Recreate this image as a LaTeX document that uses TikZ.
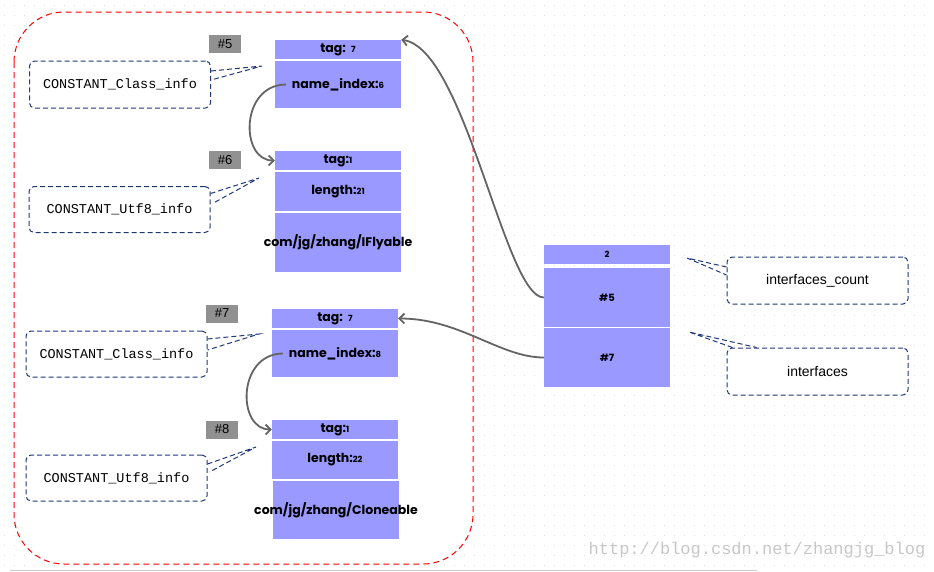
\documentclass[tikz,border=0pt]{standalone}
\usepackage{fontspec}
\usetikzlibrary{calc,arrows.meta}
\newfontfamily\cellfont{Poppins}
\newfontfamily\codefont{Liberation Mono}
\newfontfamily\labelfont{Liberation Sans}
\definecolor{cellblue}{RGB}{153,153,255}
\definecolor{tailblue}{RGB}{31,56,120}
\definecolor{idxgray}{RGB}{145,145,145}
\definecolor{linkgray}{RGB}{100,100,100}
\definecolor{dotgray}{RGB}{222,222,222}
\newcommand{\dig}[1]{{\fontsize{8.5}{9}\selectfont #1}}

\begin{document}
\begin{tikzpicture}[x=1pt,y=-1pt,
  cell/.style={fill=cellblue, minimum width=126pt, inner sep=0pt, font=\cellfont\bfseries\fontsize{12.5}{14}\selectfont},
  idx/.style={fill=idxgray, minimum width=32pt, minimum height=18pt, inner sep=0pt, font=\labelfont\fontsize{13}{15}\selectfont},
  info/.style={draw=tailblue, line width=1pt, dash pattern=on 5pt off 3pt, rounded corners=5pt, fill=white, minimum width=181pt, minimum height=47pt, inner sep=0pt, font=\codefont\fontsize{13.5}{15}\selectfont},
  tail/.style={draw=tailblue, dash pattern=on 5pt off 3pt, line width=1pt},
  link/.style={draw=linkgray, line width=1.8pt, -{Straight Barb[length=5pt,width=10pt]}}]
\useasboundingbox (0,0) rectangle (934,571);

% dotted background
\foreach \y in {5,15,...,565}
  \draw[dotgray, line width=1pt, dash pattern=on 1pt off 9pt] (4,\y) -- (934,\y);
\draw[red, line width=1pt, dash pattern=on 6pt off 4pt, fill=white, rounded corners=50pt] (14,12) rectangle (473,564);
\draw[black!20] (10,570) -- (757,570);
\node[text=black!22, font=\codefont\fontsize{17}{19}\selectfont] (mark) at (757,550) {http://blog.csdn.net/zhangjg\_blog};

% #5 CONSTANT_Class_info
\node[cell, minimum height=19pt] (tagA) at (338,49.5) {tag:\ \ \dig{7}};
\node[cell, minimum height=47pt] (nameA) at (338,84.5) {name\_index:\dig{6}};
\node[idx] (idxA) at (225,44) {\#5};
\node[info] (clsA) at (120,84.5) {CONSTANT\_Class\_info};

% #6 CONSTANT_Utf8_info
\node[cell, minimum height=19pt] (tagB) at (338,160.5) {tag:\dig{1}};
\node[cell, minimum height=39pt] (lenB) at (338,191.5) {length:\dig{21}};
\node[cell, minimum height=59pt] (strB) at (338,242.5) {\makebox[0pt]{com/jg/zhang/IFlyable}};
\node[idx] (idxB) at (225,160) {\#6};
\node[info, minimum height=46pt] (utfB) at (119.5,209.5) {CONSTANT\_Utf8\_info};

% #7 CONSTANT_Class_info
\node[cell, minimum height=19pt] (tagC) at (335,318.5) {tag:\ \ \dig{7}};
\node[cell, minimum height=47pt] (nameC) at (335,353.5) {name\_index:\dig{8}};
\node[idx] (idxC) at (222,313.5) {\#7};
\node[info, minimum height=46pt] (clsC) at (116.5,354) {CONSTANT\_Class\_info};

% #8 CONSTANT_Utf8_info
\node[cell, minimum height=19pt] (tagD) at (335,429.5) {tag:\dig{1}};
\node[cell, minimum height=38pt] (lenD) at (335,460) {length:\dig{22}};
\node[cell, minimum height=58pt] (strD) at (336,510) {\makebox[0pt]{com/jg/zhang/Cloneable}};
\node[idx] (idxD) at (222,429.5) {\#8};
\node[info, minimum height=46pt] (utfD) at (116.5,478) {CONSTANT\_Utf8\_info};

% interfaces
\node[cell, minimum height=19pt] (cnt) at (607,254.5) {\dig{2}};
\node[cell, minimum height=59pt] (ifA) at (607,297.5) {\fontsize{10}{12}\selectfont\#5};
\node[cell, minimum height=59pt] (ifB) at (607,357.5) {\fontsize{10}{12}\selectfont\#7};
\node[info, font=\labelfont\fontsize{14}{16}\selectfont] (cntBox) at (817.5,280.5) {interfaces\_count};
\node[info, font=\labelfont\fontsize{14}{16}\selectfont] (ifsBox) at (817.5,371.5) {interfaces};

% callout tails
\coordinate (tipA) at (262,66);
\coordinate (tipB) at (259,178);
\coordinate (tipC) at (259,334);
\coordinate (tipD) at (256,447);
\coordinate (tipE) at (687,258);
\coordinate (tipF) at (689,332);
\draw[tail] ($(clsA.east)+(0,-13.5)$) -- (tipA) -- ($(clsA.east)+(0,-4.5)$);
\draw[tail] ($(utfB.east)+(0,-16)$) -- (tipB) -- ($(utfB.east)+(2,-6)$);
\draw[tail] ($(clsC.east)+(0,-15)$) -- (tipC) -- ($(clsC.east)+(0,-4)$);
\draw[tail] ($(utfD.east)+(0,-14)$) -- (tipD) -- ($(utfD.east)+(2,-6)$);
\draw[tail] ($(cntBox.west)+(0,-13.5)$) -- (tipE) -- ($(cntBox.west)+(0,-5.5)$);
\draw[tail] ($(ifsBox.north west)+(6,0)$) -- (tipF) -- ($(ifsBox.north west)+(30,0)$);

% references
\draw[link] ($(nameA.west)+(11,0)$) .. controls (240,85) and (240,160.5) .. (tagB.west);
\draw[link] ($(nameC.west)+(11,0)$) .. controls (237,354) and (237,429.5) .. (tagD.west);
\draw[link] (ifA.west) .. controls (505,297.5) and (465,48) .. (tagA.north east);
\draw[link] (ifB.west) .. controls (500,357.5) and (460,318.5) .. (tagC.east);
\end{tikzpicture}
\end{document}
